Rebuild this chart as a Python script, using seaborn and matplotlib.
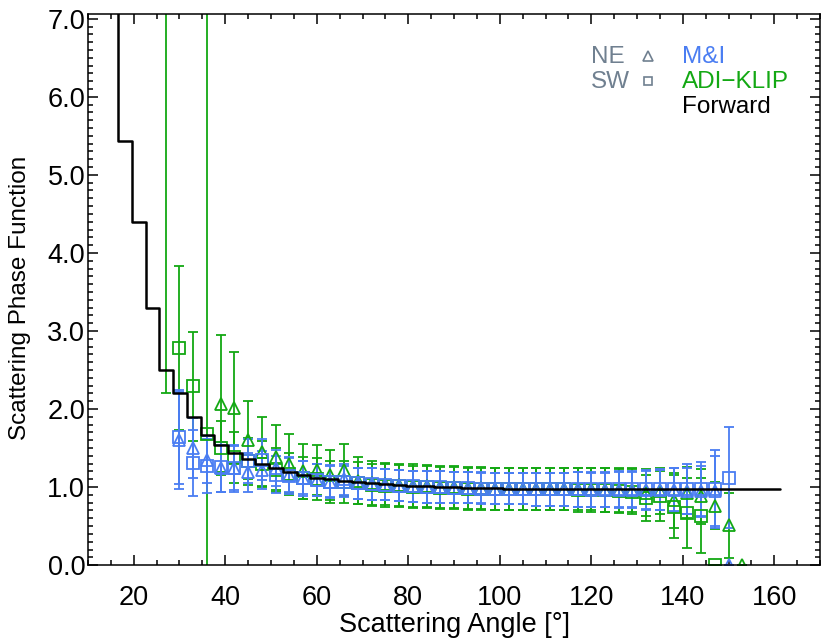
import numpy as np
import seaborn as sns
import matplotlib.pyplot as plt
from matplotlib.ticker import MultipleLocator, FormatStrFormatter

# data
angles = [30, 33, 36, 39, 42, 45, 48, 51, 54, 57, 60, 63, 66, 69, 72, 75, 78,
          81, 84, 87, 90, 93, 96, 99, 102, 105, 108, 111, 114, 117, 120, 123,
          126, 129, 132, 135, 138, 141, 144, 147, 150]

# M&I, NE (triangles)
mi_ne = [1.60, 1.50, 1.35, 1.24, 1.24, 1.19, 1.22, 1.25, 1.16, 1.12, 1.09,
         1.07, 1.10, 1.05, 1.04, 1.03, 1.02, 1.01, 1.00, 1.00, 0.99, 0.99,
         0.99, 0.98, 0.98, 0.98, 0.97, 0.97, 0.97, 0.97, 0.96, 0.96, 0.96,
         0.96, 0.96, 0.96, 0.96, 0.95, 0.95, 0.95, 0.00]
mi_ne_err = [0.62, 0.38, 0.30, 0.30, 0.28, 0.25, 0.24, 0.23, 0.22, 0.21, 0.21,
             0.20, 0.20, 0.20, 0.20, 0.20, 0.20, 0.20, 0.20, 0.20, 0.20, 0.20,
             0.20, 0.20, 0.20, 0.20, 0.21, 0.21, 0.21, 0.22, 0.22, 0.22, 0.23,
             0.23, 0.25, 0.26, 0.28, 0.30, 0.32, 0.45, 0.00]

# M&I, SW (squares)
mi_sw = [1.64, 1.31, 1.27, 1.26, 1.24, 1.33, 1.35, 1.16, 1.14, 1.11, 1.09,
         1.07, 1.07, 1.05, 1.04, 1.03, 1.02, 1.01, 1.00, 1.00, 0.99, 0.99,
         0.98, 0.98, 0.98, 0.98, 0.97, 0.97, 0.97, 0.97, 0.97, 0.97, 0.97,
         0.97, 0.97, 0.97, 0.97, 0.97, 0.97, 0.97, 1.12]
mi_sw_err = [0.60, 0.42, 0.35, 0.32, 0.30, 0.28, 0.26, 0.24, 0.23, 0.22, 0.21,
             0.21, 0.20, 0.20, 0.20, 0.20, 0.20, 0.20, 0.20, 0.20, 0.20, 0.20,
             0.20, 0.20, 0.20, 0.20, 0.21, 0.21, 0.21, 0.22, 0.22, 0.22, 0.23,
             0.23, 0.25, 0.26, 0.28, 0.32, 0.35, 0.50, 0.65]

# ADI-KLIP, NE (triangles)
adi_ne_ang = [39, 42, 45, 48, 51, 54, 57, 60, 63, 66, 69, 72, 75, 78, 81, 84,
              87, 90, 93, 96, 99, 102, 105, 108, 111, 114, 117, 120, 123, 126,
              129, 132, 135, 138, 141, 144, 147, 150, 153]
adi_ne = [2.07, 2.01, 1.60, 1.45, 1.38, 1.30, 1.20, 1.22, 1.15, 1.22, 1.08,
          1.05, 1.04, 1.03, 1.02, 1.01, 1.00, 1.00, 0.99, 0.99, 0.98, 0.98,
          0.98, 0.98, 0.97, 0.97, 0.97, 0.97, 0.96, 0.96, 0.96, 0.93, 0.95,
          0.83, 0.93, 0.88, 0.76, 0.51, 0.00]
adi_ne_err = [0.88, 0.72, 0.50, 0.45, 0.42, 0.38, 0.35, 0.32, 0.32, 0.33, 0.30,
              0.28, 0.27, 0.27, 0.27, 0.27, 0.27, 0.27, 0.27, 0.27, 0.27, 0.27,
              0.27, 0.27, 0.27, 0.27, 0.27, 0.27, 0.28, 0.28, 0.28, 0.30, 0.30,
              0.35, 0.33, 0.35, 0.30, 0.42, 0.00]

# ADI-KLIP, SW (squares)
adi_sw_ang = [27, 30, 33, 36, 39, 42, 45, 48, 51, 54, 57, 60, 63, 66, 69, 72,
              75, 78, 81, 84, 87, 90, 93, 96, 99, 102, 105, 108, 111, 114, 117,
              120, 123, 126, 129, 132, 135, 138, 141, 144, 147]
adi_sw = [7.60, 2.78, 2.29, 1.68, 1.50, 1.38, 1.33, 1.30, 1.22, 1.17, 1.12,
          1.10, 1.07, 1.06, 1.05, 1.03, 1.02, 1.01, 1.00, 1.00, 0.99, 0.99,
          0.98, 0.98, 0.98, 0.98, 0.97, 0.97, 0.97, 0.97, 0.96, 0.96, 0.96,
          0.95, 0.94, 0.86, 0.88, 0.75, 0.67, 0.63, 0.00]
adi_sw_err = [5.40, 1.05, 0.70, 9.00, 0.35, 0.33, 0.30, 0.29, 0.28, 0.27, 0.27,
              0.27, 0.27, 0.27, 0.27, 0.27, 0.27, 0.27, 0.27, 0.27, 0.27, 0.27,
              0.27, 0.27, 0.27, 0.27, 0.27, 0.27, 0.27, 0.27, 0.28, 0.28, 0.28,
              0.28, 0.29, 0.30, 0.32, 0.40, 0.45, 0.48, 0.00]

# forward model (histogram style)
fwd_ang = [15.1, 18.1, 21.1, 24.1, 27.1, 30.1, 33.1, 36.1, 39.1, 42.1, 45.1,
           48.1, 51.1, 54.1, 57.1, 60.1, 63.1, 66.1, 69.1, 72.1, 75.1, 78.1,
           81.1, 84.1, 87.1, 90.1, 93.1, 96.1, 99.1, 102.1, 105.1, 108.1,
           111.1, 114.1, 117.1, 120.1, 123.1, 126.1, 129.1, 132.1, 135.1,
           138.1, 141.1, 144.1, 147.1, 150.1, 153.1, 156.1, 159.1, 161.3]
fwd = [7.60, 5.44, 4.39, 3.29, 2.50, 2.21, 1.90, 1.67, 1.54, 1.44, 1.36,
       1.29, 1.24, 1.19, 1.15, 1.12, 1.10, 1.08, 1.06, 1.05, 1.04, 1.03,
       1.02, 1.01, 1.00, 1.00, 0.99, 0.99, 0.99, 0.98, 0.98, 0.98,
       0.98, 0.98, 0.98, 0.98, 0.98, 0.98, 0.97, 0.97, 0.97,
       0.97, 0.97, 0.97, 0.97, 0.97, 0.97, 0.97, 0.97, 0.97]

blue = "#4a7df2"
green = "#13a813"
gray = "#708090"

sns.set_style("ticks")
plt.rcParams["font.family"] = ["Liberation Sans", "DejaVu Sans"]
plt.rcParams["text.color"] = "black"
plt.rcParams["axes.labelcolor"] = "black"

fig = plt.figure(figsize=(8.3, 6.4), dpi=100)
ax = fig.add_axes([0.106, 0.117, 0.882, 0.861])

style = dict(ls="none", mfc="none", ms=8, mew=1.3, elinewidth=1.3,
             capsize=3.6, capthick=1.3)

# ADI-KLIP first, M&I on top
ax.errorbar(adi_ne_ang, adi_ne, yerr=adi_ne_err, fmt="^", color=green,
            mec=green, **style)
ax.errorbar(adi_sw_ang, adi_sw, yerr=adi_sw_err, fmt="s", color=green,
            mec=green, **style)
ax.errorbar(angles, mi_ne, yerr=mi_ne_err, fmt="^", color=blue,
            mec=blue, **style)
ax.errorbar(angles, mi_sw, yerr=mi_sw_err, fmt="s", color=blue,
            mec=blue, **style)

sns.lineplot(x=fwd_ang, y=fwd, ax=ax, color="black", lw=1.8,
             drawstyle="steps-mid", sort=False, zorder=5)

ax.set_xlim(10, 170)
ax.set_ylim(0, 7.06)
ax.xaxis.set_major_locator(MultipleLocator(20))
ax.xaxis.set_minor_locator(MultipleLocator(5))
ax.yaxis.set_major_locator(MultipleLocator(1))
ax.yaxis.set_minor_locator(MultipleLocator(0.1))
ax.yaxis.set_major_formatter(FormatStrFormatter("%.1f"))
ax.tick_params(which="both", direction="in", top=True, right=True,
               width=1.1, colors="black", labelsize=19.5)
ax.tick_params(which="major", length=7)
ax.tick_params(which="minor", length=3.5)
ax.tick_params(axis="x", pad=14)
ax.tick_params(axis="y", pad=2)
for s in ax.spines.values():
    s.set_linewidth(1.1)
    s.set_color("black")

ax.set_xlabel("Scattering Angle [°]", fontsize=19.5, labelpad=1,
              color="black")
ax.set_ylabel("Scattering Phase Function", fontsize=17.5, color="black")
ax.yaxis.set_label_coords(-0.078, 0.485)

# hand-made legend
ax.text(0.687, 0.922, "NE", color=gray, fontsize=17.5, va="center",
        transform=ax.transAxes)
ax.text(0.687, 0.877, "SW", color=gray, fontsize=17.5, va="center",
        transform=ax.transAxes)
ax.plot([0.765], [0.924], marker="^", ms=6.5, mfc="none", mec=gray, mew=1.2,
        transform=ax.transAxes)
ax.plot([0.765], [0.879], marker="s", ms=6, mfc="none", mec=gray, mew=1.2,
        transform=ax.transAxes)
ax.text(0.812, 0.922, "M&I", color=blue, fontsize=17.5, va="center",
        transform=ax.transAxes)
ax.text(0.812, 0.877, "ADI\u2212KLIP", color=green, fontsize=17.5, va="center",
        transform=ax.transAxes)
ax.text(0.812, 0.831, "Forward", color="black", fontsize=17.5, va="center",
        transform=ax.transAxes)

fig.savefig("out.png", dpi=100)
